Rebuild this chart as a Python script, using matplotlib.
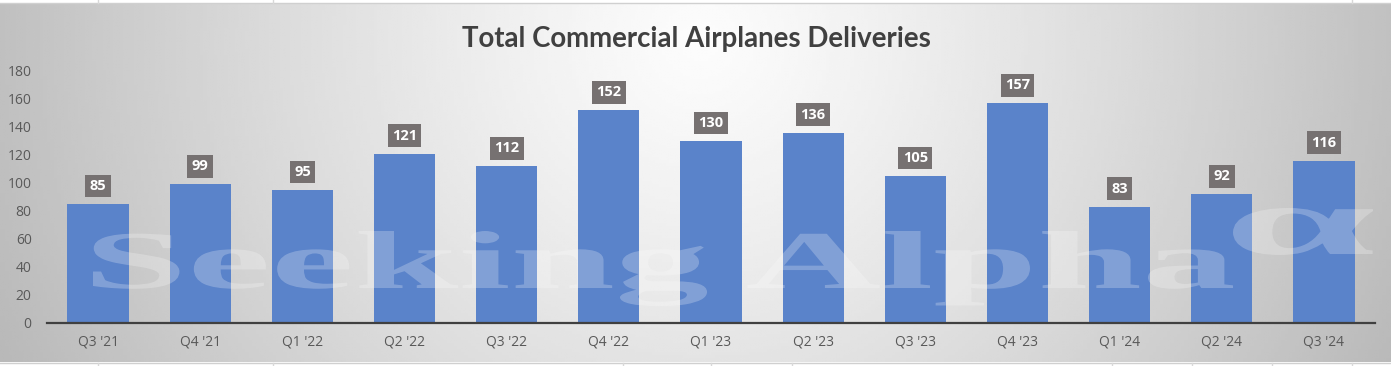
import matplotlib
matplotlib.use("Agg")
import matplotlib.pyplot as plt
import numpy as np
from matplotlib.textpath import TextPath
from matplotlib.patches import PathPatch
from matplotlib.font_manager import FontProperties
from matplotlib.transforms import Affine2D

# data
quarters = ["Q3 '21", "Q4 '21", "Q1 '22", "Q2 '22", "Q3 '22", "Q4 '22", "Q1 '23",
            "Q2 '23", "Q3 '23", "Q4 '23", "Q1 '24", "Q2 '24", "Q3 '24"]
deliveries = [85, 99, 95, 121, 112, 152, 130, 136, 105, 157, 83, 92, 116]
yticks = [0, 20, 40, 60, 80, 100, 120, 140, 160, 180]

W, H = 1391, 366
fig = plt.figure(figsize=(W / 100, H / 100), dpi=100)
fig.patch.set_facecolor("white")

# background: radial grey gradient like the excel chart area
bg = fig.add_axes([0, 0, 1, 1], zorder=-1)
bg.set_xlim(0, W)
bg.set_ylim(H, 0)
bg.axis("off")
gx, gy = np.meshgrid(np.linspace(0, W, 400), np.linspace(3, 362, 120))
r = np.sqrt(((gx - 700) / 720) ** 2 + ((gy - 40) / 700) ** 2)
v = np.clip(252 - 62 * r ** 1.2, 0, 255) / 255
bg.imshow(v, cmap="gray", vmin=0, vmax=1, extent=[0, W, 362, 3], aspect="auto",
          interpolation="bilinear")
for yy in (3, 362.5):
    bg.plot([0, W], [yy, yy], color="#d0d0d0", lw=1)
for xx in (98, 273, 1352):
    bg.plot([xx, xx], [0, 3], color="#d8d8d8", lw=1)
for xx in (98, 273, 623, 711, 792, 1112, 1192, 1272, 1352):
    bg.plot([xx, xx], [363, H], color="#d8d8d8", lw=1)

# main axes
ax = fig.add_axes([47 / W, 1 - 323 / H, 1328 / W, 252 / H])
ax.patch.set_alpha(0)
x = np.arange(len(quarters))
ax.bar(x, deliveries, width=0.6, color="#5a83ca", zorder=2)
ax.set_xlim(-0.5, len(quarters) - 0.5)
ax.set_ylim(0, 180)
ax.set_yticks(yticks)
ax.set_xticks(x)
ax.set_xticklabels(quarters)
for s in ("top", "right", "left"):
    ax.spines[s].set_visible(False)
ax.spines["bottom"].set_color("#404040")
ax.spines["bottom"].set_linewidth(1.6)
ax.spines["bottom"].set_zorder(3)
ax.tick_params(axis="both", length=0, labelsize=10, labelcolor="#595959")
ax.tick_params(axis="y", pad=11)
ax.tick_params(axis="x", pad=8)
for lab in ax.get_xticklabels() + ax.get_yticklabels():
    lab.set_family("Open Sans")

for xi, val in zip(x, deliveries):
    ax.annotate(str(val), (xi, val), xytext=(0, 13), textcoords="offset points",
                ha="center", va="center", color="white", fontweight="bold",
                fontsize=10.5, family="Open Sans", zorder=6,
                bbox=dict(boxstyle="square,pad=0.3", fc="#767171", ec="none"))

# title, fitted to the width in the reference
title = fig.text(696 / W, 1 - 47 / H, "Total Commercial Airplanes Deliveries",
                 ha="center", va="baseline", fontsize=20, fontweight="bold",
                 color="#404040", family="Lato")
fig.canvas.draw()
tw = title.get_window_extent().width
title.set_fontsize(20 * 470 / tw)

# watermark
fp = FontProperties(family="Liberation Serif", weight="bold")
tp = TextPath((0, 0), "Seeking Alpha", size=100, prop=fp)
e = tp.get_extents()
tr = Affine2D().translate(-e.x0, 0).scale((1233 - 93) / (e.x1 - e.x0), -(288 - 231) / e.y1).translate(93, 288)
wm = PathPatch(tr.transform_path(tp), fc="white", ec="none", alpha=0.24,
               transform=bg.transData, zorder=5)
fig.add_artist(wm)
tp2 = TextPath((0, 0), "\u03b1", size=100, prop=fp)
e2 = tp2.get_extents()
tr2 = Affine2D().translate(-e2.x0, -e2.y1).scale((1373 - 1233) / (e2.x1 - e2.x0), -(255 - 208) / (e2.y1 - e2.y0)).translate(1233, 208)
wm2 = PathPatch(tr2.transform_path(tp2), fc="white", ec="none", alpha=0.24,
                transform=bg.transData, zorder=5)
fig.add_artist(wm2)

fig.savefig("out.png", dpi=100)
